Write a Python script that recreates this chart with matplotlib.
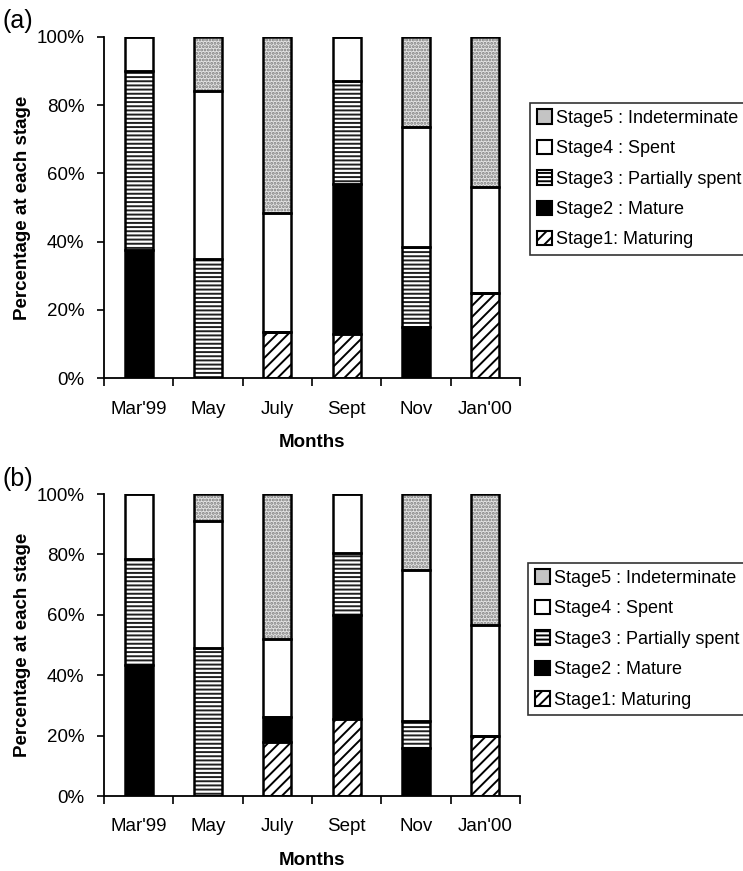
import matplotlib
matplotlib.use("Agg")
import matplotlib.pyplot as plt
from matplotlib.patches import Patch
import numpy as np

plt.rcParams['font.family'] = ['Liberation Sans', 'DejaVu Sans']
plt.rcParams['hatch.linewidth'] = 1.4

months = ["Mar'99", "May", "July", "Sept", "Nov", "Jan'00"]
stage_labels = ["Stage1: Maturing", "Stage2 : Mature", "Stage3 : Partially spent",
                "Stage4 : Spent", "Stage5 : Indeterminate"]

# Percentage of specimens at each gonad stage, panel (a)
a_stage1 = [0, 0, 13.6, 13, 0, 25]
a_stage2 = [37.5, 0, 0, 44, 15, 0]
a_stage3 = [52.5, 35, 0, 30, 23.5, 0]
a_stage4 = [10, 49, 34.7, 13, 35, 31]
a_stage5 = [0, 16, 51.7, 0, 26.5, 44]

# Panel (b)
b_stage1 = [0, 0, 18, 25.5, 0, 20]
b_stage2 = [43.5, 0, 8, 34.5, 16, 0]
b_stage3 = [35, 49, 0, 20.5, 9, 0]
b_stage4 = [21.5, 42, 26, 19.5, 50, 36.5]
b_stage5 = [0, 9, 48, 0, 25, 43.5]

# fill styles per stage: (facecolor, hatch, hatch colour)
styles = [
    ("white", "///", "black"),
    ("black", None, "black"),
    ("white", "----", "#202020"),
    ("white", None, "black"),
    ("#e4e4e4", ".....", "#7a7a7a"),
]

W, H = 743, 871
fig = plt.figure(figsize=(W / 100, H / 100), dpi=100)
FS = 13.5


def draw_panel(rect, data, tag, legend_top):
    ax = fig.add_axes(rect)
    x = np.arange(len(months))
    bottom = np.zeros(len(months))
    width = 0.40
    for vals, (fc, hatch, hc) in zip(data, styles):
        vals = np.asarray(vals, dtype=float)
        # hatched fill
        ax.bar(x, vals, width, bottom=bottom, facecolor=fc, edgecolor=hc,
               hatch=hatch, linewidth=0, zorder=2)
        # outline
        ax.bar(x, vals, width, bottom=bottom, fill=False, edgecolor="black",
               linewidth=1.8, zorder=3)
        bottom += vals
    ax.set_xlim(-0.5, len(months) - 0.5)
    ax.set_ylim(0, 100)
    for s in ("top", "right"):
        ax.spines[s].set_visible(False)
    for s in ("left", "bottom"):
        ax.spines[s].set_linewidth(1.3)
    ax.set_yticks(np.arange(0, 101, 20))
    ax.set_yticklabels([f"{v}%" for v in range(0, 101, 20)], fontsize=FS)
    ax.tick_params(axis="y", direction="out", length=5, width=1.2, pad=9)
    ax.set_xticks(np.arange(-0.5, len(months), 1.0))
    ax.set_xticklabels([])
    ax.tick_params(axis="x", which="major", direction="out", length=6, width=1.2)
    ax.set_xticks(x, minor=True)
    ax.set_xticklabels(months, minor=True, fontsize=FS)
    ax.tick_params(axis="x", which="minor", length=0, pad=16)
    ax.set_xlabel("Months", fontsize=FS, fontweight="bold", labelpad=12)
    ax.set_ylabel("Percentage at each stage", fontsize=FS, fontweight="bold",
                  labelpad=4)
    fig.text(0.003, rect[1] + rect[3] + 0.004, tag, fontsize=18, ha="left",
             va="bottom")

    handles = []
    for fc, hatch, hc in styles:
        if hatch == ".....":
            handles.append(Patch(facecolor="#c4c4c4", edgecolor="black",
                                 linewidth=1.5))
        else:
            handles.append(Patch(facecolor=fc, edgecolor="black", hatch=hatch,
                                 linewidth=1.5))
    leg = fig.legend(handles[::-1], stage_labels[::-1], loc="upper left",
                     bbox_to_anchor=(legend_top[0], legend_top[1]),
                     fontsize=13, frameon=True, fancybox=False,
                     edgecolor="black", handlelength=0.85, handleheight=0.85,
                     handletextpad=0.25, labelspacing=0.72, borderpad=0.36,
                     borderaxespad=0)
    leg.get_frame().set_linewidth(1.2)
    return ax


draw_panel([104 / W, 1 - 378.3 / H, 416 / W, 341.6 / H],
           [a_stage1, a_stage2, a_stage3, a_stage4, a_stage5], "(a)",
           (530 / W, 1 - 102.7 / H))
draw_panel([104 / W, 1 - 796 / H, 416 / W, 302 / H],
           [b_stage1, b_stage2, b_stage3, b_stage4, b_stage5], "(b)",
           (528 / W, 1 - 563 / H))

fig.savefig("out.png", dpi=100)
